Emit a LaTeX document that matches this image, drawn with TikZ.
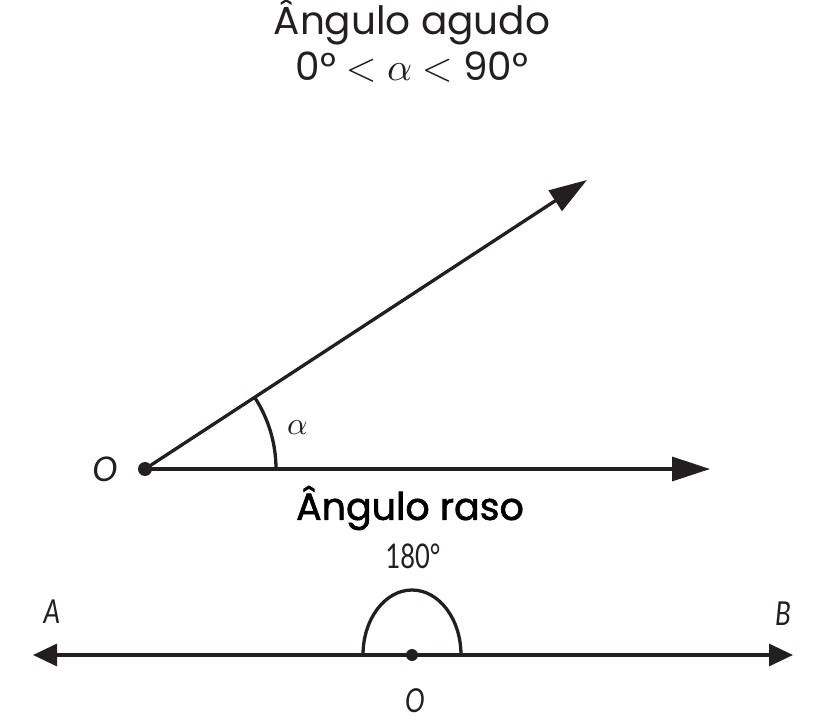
\documentclass[tikz,border=0pt]{standalone}
\usepackage{fontspec}
\usepackage{unicode-math}
\setmathfont{Latin Modern Math}
\setmainfont{Poppins}
\newfontfamily\labfont{Lato}
\newfontfamily\semib{Poppins}[FakeBold=1.6]
\usetikzlibrary{arrows.meta}
\definecolor{ink}{HTML}{231F20}
\tikzset{
  ray/.style={line width=3.3pt, draw=ink, -{Triangle[length=38pt,width=24pt]}},
  lineab/.style={line width=3.3pt, draw=ink, {Triangle[length=24pt,width=22pt]}-{Triangle[length=24pt,width=22pt]}},
  arcline/.style={line width=3.3pt, draw=ink},
  dot/.style={circle, fill=ink, inner sep=0pt, minimum size=14pt},
  title/.style={text=ink, font=\fontsize{39}{44}\selectfont, inner sep=0pt},
  lab/.style={text=ink, inner sep=0pt},
  itlab/.style={lab, font=\labfont\itshape\fontsize{33}{33}\selectfont}
}
\begin{document}
\begin{tikzpicture}[x=1pt,y=-1pt]
\useasboundingbox (0,0) rectangle (820,720);
% titles
\node[title] (t1) at (412,22) {Ângulo agudo};
\node[title] (t2) at (412,67) {0° $<$ $\alpha$ $<$ 90°};
% acute angle
\node[dot] (O) at (145,469) {};
\coordinate (P) at (587,180);
\coordinate (Q) at (710,469);
\draw[ray] (O.center) -- (P);
\draw[ray] (O.center) -- (Q);
\draw[arcline] (276,469) arc[start angle=0, end angle=-33.2, radius=131];
\node[lab, font=\fontsize{32}{32}\selectfont] (al) at (298,428) {$\alpha$};
\node[lab, font=\labfont\itshape\fontsize{34}{34}\selectfont] (Ol) at (105,469) {O};
% straight angle
\node[lab, font=\semib\fontsize{38}{44}\selectfont, text=black] (t3) at (410,508) {Ângulo raso};
\node[lab, font=\labfont\fontsize{34}{34}\selectfont] (deg) at (413,556) {\scalebox{0.75}[1]{180°}};
\coordinate (A) at (33,655);
\coordinate (B) at (793,655);
\draw[lineab] (A) -- (B);
\draw[arcline] (363,655) arc[start angle=180, end angle=360, x radius=49, y radius=65];
\node[dot, minimum size=12pt] (O2) at (412,655) {};
\node[itlab] (O2l) at (415,701) {\scalebox{0.8}[1]{O}};
\node[itlab] (Al) at (52,612) {\scalebox{0.8}[1]{A}};
\node[itlab] (Bl) at (783,614) {\scalebox{0.8}[1]{B}};
\end{tikzpicture}
\end{document}
